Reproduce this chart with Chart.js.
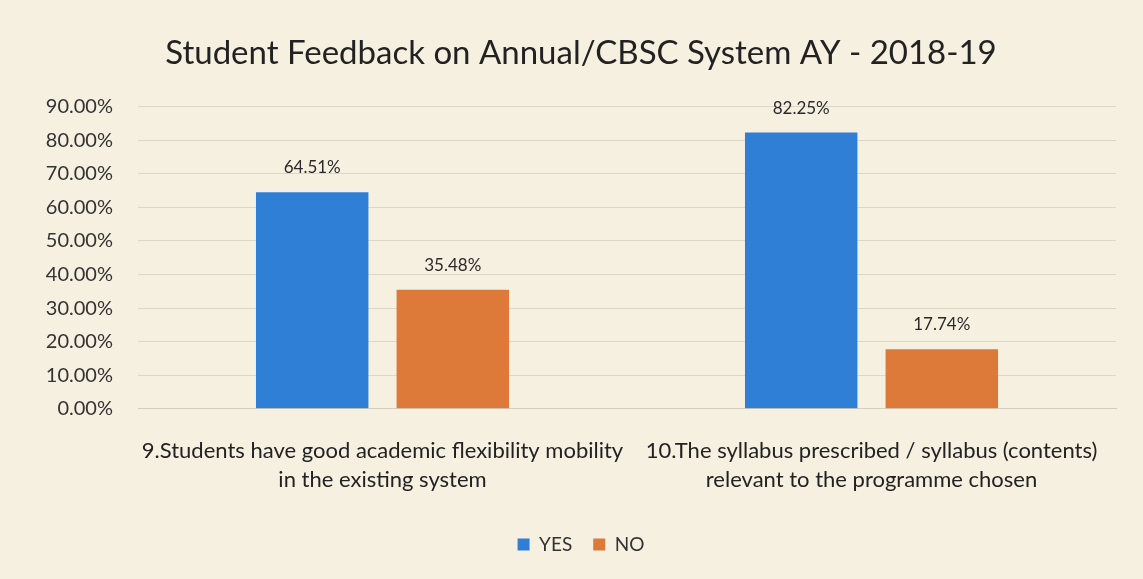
<!DOCTYPE html>
<html>
<head>
<meta charset="utf-8">
<script src="https://cdn.jsdelivr.net/npm/chart.js@4"></script>
<style>
  body { margin: 0; background: #f6f0e1; }
  #wrap { width: 1143px; height: 579px; position: relative; }
</style>
</head>
<body>
<div id="wrap"><canvas id="grafico"></canvas></div>
<script>
// dados do gráfico
const categorias = [
    ['9.Students have good academic flexibility mobility', 'in the existing system'],
    ['10.The syllabus prescribed / syllabus (contents)', 'relevant to the programme chosen']
];
const valoresSim = [64.51, 82.25];
const valoresNao = [35.48, 17.74];
const titulo = 'Student Feedback on Annual/CBSC System AY - 2018-19';

// plugin simples para escrever o valor em cima de cada barra
const rotulosBarras = {
    id: 'rotulosBarras',
    afterDatasetsDraw(chart) {
        const ctx = chart.ctx;
        ctx.save();
        ctx.font = '17px Lato';
        ctx.fillStyle = '#2a2a2a';
        ctx.textAlign = 'center';
        ctx.textBaseline = 'bottom';
        chart.data.datasets.forEach((ds, i) => {
            chart.getDatasetMeta(i).data.forEach((bar, j) => {
                ctx.fillText(ds.data[j].toFixed(2) + '%', bar.x, bar.y - 16);
            });
        });
        ctx.restore();
    }
};

const ctx = document.getElementById('grafico').getContext('2d');
new Chart(ctx, {
    type: 'bar',
    data: {
        labels: categorias,
        datasets: [
            { label: 'YES', data: valoresSim, backgroundColor: '#2f7fd6',
              categoryPercentage: 0.575, barPercentage: 0.8 },
            { label: 'NO', data: valoresNao, backgroundColor: '#dd7a3a',
              categoryPercentage: 0.575, barPercentage: 0.8 }
        ]
    },
    options: {
        responsive: true,
        maintainAspectRatio: false,
        animation: false,
        layout: { padding: { left: 46, right: 27, top: 34, bottom: 15 } },
        plugins: {
            title: {
                display: true,
                text: titulo,
                color: '#222',
                font: { family: 'Lato', size: 33, weight: 'normal' },
                padding: { top: 0, bottom: 33 }
            },
            legend: {
                position: 'bottom',
                labels: {
                    color: '#333',
                    font: { family: 'Lato', size: 19 },
                    boxWidth: 12, boxHeight: 12,
                    padding: 21
                }
            },
            tooltip: { enabled: false }
        },
        scales: {
            y: {
                min: 0, max: 90,
                afterFit: escala => { escala.width = 92; },
                ticks: {
                    stepSize: 10,
                    color: '#333',
                    padding: 25,
                    font: { family: 'Lato', size: 20 },
                    callback: v => v.toFixed(2) + '%'
                },
                grid: { color: '#ddd7c8', drawTicks: false },
                border: { display: false }
            },
            x: {
                ticks: {
                    color: '#222',
                    font: { family: 'Lato', size: 22, lineHeight: 1.3 },
                    maxRotation: 0, autoSkip: false,
                    padding: 20
                },
                grid: { display: false },
                border: { color: '#d4cdbd' }
            }
        }
    },
    plugins: [rotulosBarras]
});
</script>
</body>
</html>
